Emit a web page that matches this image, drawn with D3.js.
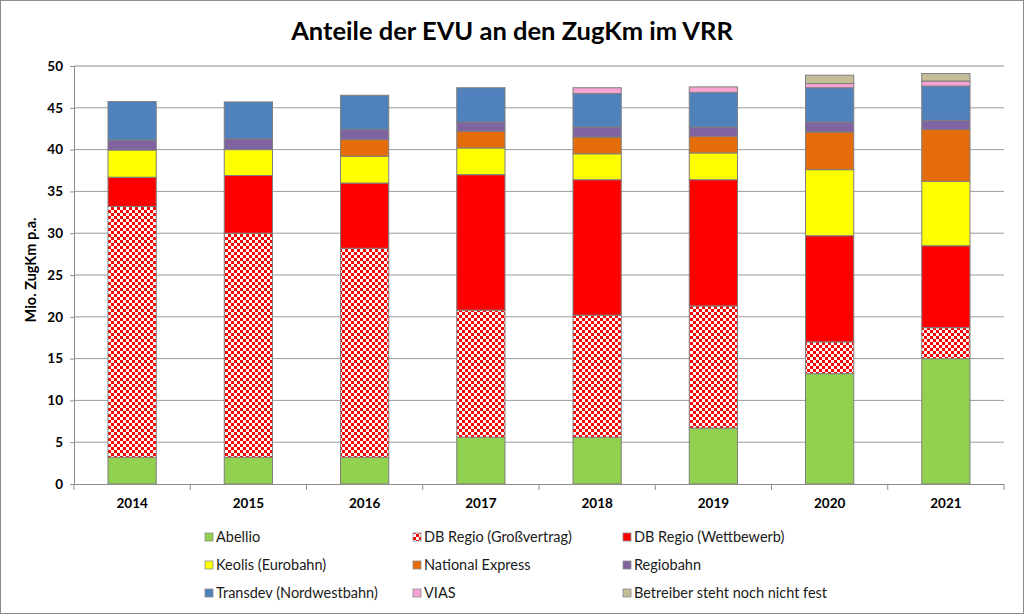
<!DOCTYPE html>
<html><head><meta charset="utf-8">
<script src="https://cdn.jsdelivr.net/npm/d3@7"></script>
<style>body{margin:0;background:#fff}svg{display:block}</style>
</head><body>
<svg id="c" width="1024" height="615"></svg>
<script>
const years = ["2014","2015","2016","2017","2018","2019","2020","2021"];
const seriesNames = ["Abellio","DB Regio (Großvertrag)","DB Regio (Wettbewerb)","Keolis (Eurobahn)","National Express","Regiobahn","Transdev (Nordwestbahn)","VIAS","Betreiber steht noch nicht fest"];
const abellio   = [3.2, 3.2, 3.2, 5.6, 5.6, 6.7, 13.2, 15.0];
const dbGross   = [30.0, 26.8, 25.0, 15.2, 14.6, 14.6, 3.8, 3.7];
const dbWett    = [3.5, 6.9, 7.8, 16.2, 16.2, 15.1, 12.7, 9.8];
const keolis    = [3.25, 3.1, 3.2, 3.2, 3.1, 3.2, 7.9, 7.7];
const natex     = [0, 0, 2.0, 2.0, 2.0, 2.0, 4.5, 6.2];
const regiobahn = [1.2, 1.3, 1.2, 1.1, 1.2, 1.1, 1.2, 1.1];
const transdev  = [4.6, 4.4, 4.1, 4.1, 4.0, 4.15, 4.1, 4.1];
const vias      = [0, 0, 0, 0, 0.7, 0.65, 0.5, 0.6];
const betreiber = [0, 0, 0, 0, 0, 0, 1.0, 0.9];
const yTicks = [0,5,10,15,20,25,30,35,40,45,50];

const allSeries = [abellio, dbGross, dbWett, keolis, natex, regiobahn, transdev, vias, betreiber];
const colors = ["#92D050","url(#checker)","#FF0000","#FFFF00","#E46C0A","#8064A2","#4F81BD","#F9A3D4","#C4BD97"];

const svg = d3.select("#c");
const font = "Lato, 'Open Sans', sans-serif";
const defs = svg.append("defs");
const pat = defs.append("pattern").attr("id","checker").attr("patternUnits","userSpaceOnUse")
  .attr("width",6).attr("height",6);
pat.append("rect").attr("width",6).attr("height",6).attr("fill","#fff");
pat.append("rect").attr("width",3).attr("height",3).attr("fill","#FF0000");
pat.append("rect").attr("x",3).attr("y",3).attr("width",3).attr("height",3).attr("fill","#FF0000");

svg.append("rect").attr("x",0.5).attr("y",0.5).attr("width",1023).attr("height",613)
  .attr("fill","#fff").attr("stroke","#8c8c8c");

const L = 74, R = 1004, T = 66, B = 484;
const x = d3.scaleBand().domain(years).range([L,R]).paddingInner(0.585).paddingOuter(0.2925);
const y = d3.scaleLinear().domain([0,50]).range([B,T]);

// gridlines
svg.append("g").selectAll("line").data(yTicks.filter(d=>d>0)).join("line")
  .attr("x1",L).attr("x2",R).attr("y1",d=>y(d)).attr("y2",d=>y(d))
  .attr("stroke",d=>d===50?"#c4c4c4":"#9c9c9c").attr("stroke-width",d=>d===50?2:1);

// stacked data
const table = years.map((yr,i)=>{const o={year:yr}; seriesNames.forEach((n,k)=>o[n]=allSeries[k][i]); return o;});
const stacked = d3.stack().keys(seriesNames)(table);

svg.append("g").selectAll("g").data(stacked).join("g")
  .attr("fill",(d,i)=>colors[i])
  .selectAll("rect").data(d=>d.filter(s=>s[1]-s[0]>0)).join("rect")
  .attr("x",d=>x(d.data.year)).attr("width",x.bandwidth())
  .attr("y",d=>y(d[1])).attr("height",d=>y(d[0])-y(d[1]))
  .attr("stroke","#7f7f7f").attr("stroke-width",1);

// axes
const yAxis = d3.axisLeft(y).tickValues(yTicks).tickSize(4).tickPadding(7);
const gy = svg.append("g").attr("transform",`translate(${L},0)`).call(yAxis);
gy.select(".domain").attr("stroke","#8c8c8c");
gy.selectAll(".tick line").attr("stroke","#8c8c8c");
gy.selectAll("text").attr("font-family",font).attr("font-weight","bold").attr("font-size",13.5).attr("fill","#000");

const gx = svg.append("g").attr("transform",`translate(0,${B})`).call(d3.axisBottom(x).tickSize(0).tickPadding(14));
gx.select(".domain").attr("stroke","#8c8c8c").attr("d",`M${L},0.5H${R}`);
gx.selectAll("text").attr("font-family",font).attr("font-weight","bold").attr("font-size",13.5).attr("fill","#000");
svg.append("g").selectAll("line").data(d3.range(years.length+1)).join("line")
  .attr("x1",d=>L+d*(R-L)/years.length).attr("x2",d=>L+d*(R-L)/years.length)
  .attr("y1",B).attr("y2",B+6).attr("stroke","#8c8c8c");

// title
svg.append("text").attr("x",512).attr("y",40).attr("text-anchor","middle")
  .attr("font-family",font).attr("font-weight","bold").attr("font-size",25.5).attr("fill","#000")
  .text("Anteile der EVU an den ZugKm im VRR");

// y label
svg.append("text").attr("transform","translate(36,270) rotate(-90)").attr("text-anchor","middle")
  .attr("font-family",font).attr("font-weight","bold").attr("font-size",14.5).attr("fill","#000")
  .text("Mio. ZugKm p.a.");

// legend
const colX = [205, 413, 623], rowY = [537, 565, 593];
const lg = svg.append("g").selectAll("g").data(seriesNames).join("g")
  .attr("transform",(d,i)=>`translate(${colX[i%3]},${rowY[Math.floor(i/3)]})`);
lg.append("rect").attr("x",0).attr("y",-4).attr("width",8).attr("height",8)
  .attr("fill",(d,i)=>colors[i]).attr("stroke","#8c8c8c").attr("stroke-width",0.8);
lg.append("text").attr("x",11).attr("y",0).attr("dy","0.36em")
  .attr("font-family",font).attr("font-size",14.5).attr("fill","#1a1a1a").text(d=>d);
</script>
</body></html>
